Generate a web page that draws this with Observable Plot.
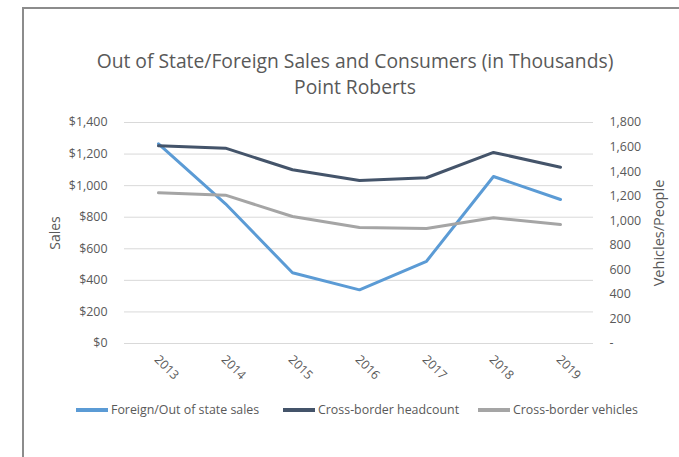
<!DOCTYPE html>
<html>
<head>
<meta charset="utf-8">
<script src="https://cdn.jsdelivr.net/npm/d3@7"></script>
<script src="https://cdn.jsdelivr.net/npm/@observablehq/plot@0.6"></script>
<style>
  html, body { margin: 0; padding: 0; background: #fff; }
  body { width: 679px; height: 457px; position: relative; overflow: hidden; font-family: "Open Sans", sans-serif; color: #595959; }
  #frame { position: absolute; left: 22px; top: 7px; width: 700px; height: 500px; border-left: 2px solid #8c8c8c; border-top: 2px solid #8c8c8c; }
  #title { position: absolute; left: 0; width: 710px; top: 48px; text-align: center; font-size: 19.3px; line-height: 26px; color: #595959; }
  #chart { position: absolute; left: 0; top: 110px; }
  #legend { position: absolute; top: 401px; left: 0; width: 679px; font-size: 12.4px; color: #595959; }
  .item { position: absolute; display: flex; align-items: center; white-space: nowrap; }
  .sw { width: 32px; height: 4px; margin-right: 3px; }
</style>
</head>
<body>
<div id="frame"></div>
<div id="title">Out of State/Foreign Sales and Consumers (in Thousands)<br>Point Roberts</div>
<div id="chart"></div>
<div id="legend"></div>
<script>
const years = ["2013", "2014", "2015", "2016", "2017", "2018", "2019"];
const sales = [1265, 885, 448, 340, 521, 1058, 912];          // left axis ($ thousands)
const headcount = [1610, 1591, 1415, 1328, 1350, 1556, 1436]; // right axis
const vehicles = [1227, 1208, 1034, 945, 937, 1024, 969];     // right axis
const leftTicks = [0, 200, 400, 600, 800, 1000, 1200, 1400];
const rightTicks = [0, 200, 400, 600, 800, 1000, 1200, 1400, 1600, 1800];
const seriesNames = ["Foreign/Out of state sales", "Cross-border headcount", "Cross-border vehicles"];
const colors = ["#5b9bd5", "#44546a", "#a5a5a5"];

const LMAX = 1400, RMAX = 1800;
const toLeft = v => v * LMAX / RMAX;

const rows = [];
years.forEach((y, i) => {
  rows.push({year: y, series: seriesNames[0], v: sales[i]});
  rows.push({year: y, series: seriesNames[1], v: toLeft(headcount[i])});
  rows.push({year: y, series: seriesNames[2], v: toLeft(vehicles[i])});
});

const font = "'Open Sans', sans-serif";
const chart = Plot.plot({
  width: 679,
  height: 347,
  marginLeft: 124,
  marginRight: 86,
  marginTop: 12,
  marginBottom: 114,
  style: {fontFamily: font, fontSize: "12.4px", color: "#595959", background: "transparent"},
  x: {type: "point", domain: years, padding: 0.5, label: null},
  y: {domain: [0, LMAX], label: null},
  color: {domain: seriesNames, range: colors},
  marks: [
    Plot.ruleY(leftTicks, {stroke: "#d9d9d9", strokeWidth: 1}),
    Plot.axisY({
      ticks: leftTicks, tickSize: 0, tickPadding: 17, anchor: "left",
      tickFormat: d => "$" + d3.format(",")(d), label: null, fill: "#595959"
    }),
    Plot.axisY({
      ticks: rightTicks.map(toLeft), tickSize: 0, tickPadding: 16, anchor: "right",
      tickFormat: d => { const r = Math.round(d * RMAX / LMAX); return r === 0 ? "-" : d3.format(",")(r); },
      textAnchor: "start", label: null, fill: "#595959"
    }),
    Plot.axisX({tickSize: 0, tickRotate: 45, tickPadding: 14, dx: -2, label: null, fill: "#595959"}),
    Plot.text(["Sales"], {frameAnchor: "left", textAnchor: "middle", dx: -69, rotate: -90, fontSize: 14, fill: "#595959"}),
    Plot.text(["Vehicles/People"], {frameAnchor: "right", textAnchor: "middle", dx: 66, rotate: -90, fontSize: 14.5, fill: "#595959"}),
    Plot.line(rows, {x: "year", y: "v", z: "series", stroke: "series", strokeWidth: 3, strokeLinejoin: "round", strokeLinecap: "round"})
  ]
});
document.getElementById("chart").appendChild(chart);

const legendPos = [76, 283, 478];
const legend = document.getElementById("legend");
seriesNames.forEach((name, i) => {
  const item = document.createElement("div");
  item.className = "item";
  item.style.left = legendPos[i] + "px";
  const sw = document.createElement("span");
  sw.className = "sw";
  sw.style.background = colors[i];
  const t = document.createElement("span");
  t.textContent = name;
  item.appendChild(sw);
  item.appendChild(t);
  legend.appendChild(item);
});
</script>
</body>
</html>
